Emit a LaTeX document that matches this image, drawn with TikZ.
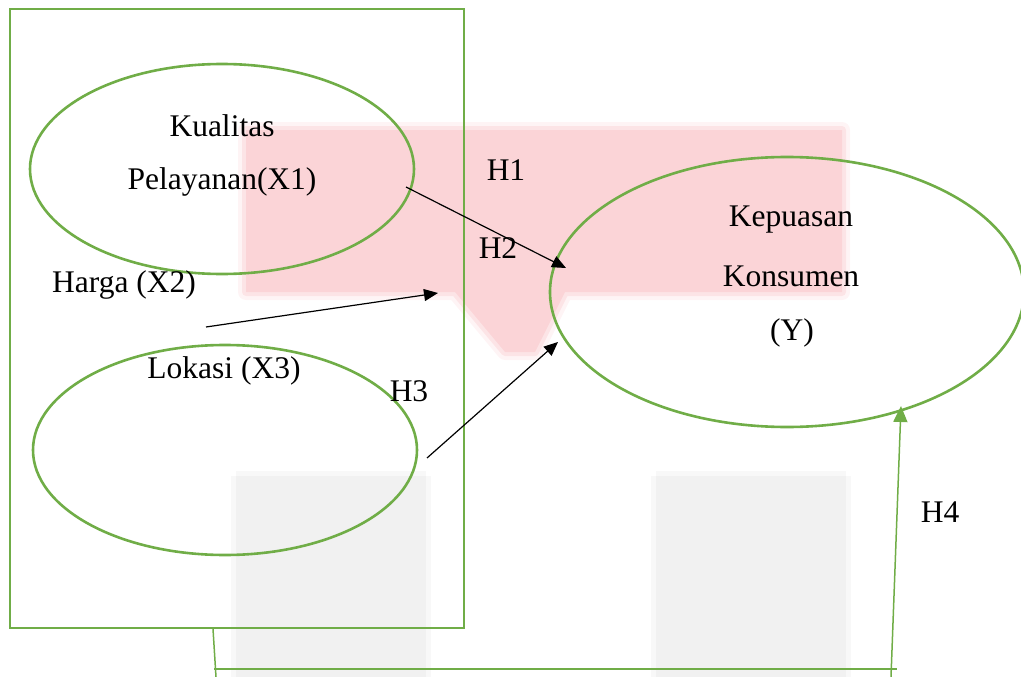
\documentclass[tikz,border=0pt]{standalone}
\usepackage{fontspec}
\setmainfont{Liberation Serif}
\usetikzlibrary{arrows.meta,shapes.geometric}
\definecolor{grn}{HTML}{70AD47}
\definecolor{wmpink}{HTML}{FBD4D7}
\definecolor{wmgrey}{HTML}{F1F1F1}
\begin{document}
\begin{tikzpicture}[x=1pt,y=-1pt,
  ell/.style={draw=grn, line width=2.6pt, ellipse, inner sep=0pt},
  boxst/.style={draw=grn, line width=2.6pt, rectangle, inner sep=0pt},
  lbl/.style={font=\fontsize{31.5}{37}\selectfont, inner sep=0pt, text=black},
  arr/.style={draw=black, line width=1.2pt, -{Triangle[length=14pt,width=12pt]}},
  gline/.style={draw=grn, line width=1.5pt},
  garr/.style={draw=grn, line width=1.5pt, -{Triangle[length=16pt,width=14pt]}}]
\useasboundingbox (0,0) rectangle (1021,677);
% faint watermark (soft edges)
\def\wmshape{(246,130) -- (842,130) -- (842,292) -- (565,292) -- (535,352) -- (505,352) -- (455,292) -- (246,292) -- cycle}
\draw[wmpink, line width=16pt, line join=round, opacity=0.25] \wmshape;
\draw[wmpink, line width=8pt, line join=round, opacity=0.5] \wmshape;
\fill[wmpink] \wmshape;
\draw[wmgrey, line width=10pt, opacity=0.5] (236,476) -- (236,677) (426,476) -- (426,677) (236,476) -- (426,476);
\fill[wmgrey] (236,476) rectangle (426,677);
\draw[wmgrey, line width=10pt, opacity=0.5] (656,476) -- (656,677) (846,476) -- (846,677) (656,476) -- (846,476);
\fill[wmgrey] (656,476) rectangle (846,677);
% shapes
\node[boxst, minimum width=454pt, minimum height=619pt] (box) at (237,318.5) {};
\node[ell, minimum width=384pt, minimum height=210pt] (e1) at (222,169) {};
\node[ell, minimum width=384pt, minimum height=210pt] (e2) at (225,450) {};
\node[ell, minimum width=474pt, minimum height=270pt] (e3) at (787,292) {};
% labels
\node[lbl] (t1) at (222,126) {Kualitas};
\node[lbl] (t2) at (222,182) {Pelayanan(X1)};
\node[lbl] (t3) at (124,285) {Harga (X2)};
\node[lbl] (t4) at (224,371) {Lokasi (X3)};
\node[lbl] (h1) at (506,170) {H1};
\node[lbl] (h2) at (498,248) {H2};
\node[lbl] (h3) at (409,391) {H3};
\node[lbl] (h4) at (940,512) {H4};
\node[lbl] (k1) at (791,220) {Kepuasan};
\node[lbl] (k2) at (791,276) {Konsumen};
\node[lbl] (k3) at (792,333) {(Y)};
% connectors
\coordinate (a1s) at (406,187);
\coordinate (a1e) at (566,268);
\coordinate (a2s) at (206,327);
\coordinate (a2e) at (438,293);
\coordinate (a3s) at (427,458);
\coordinate (a3e) at (558,342);
\draw[arr] (a1s) -- (a1e);
\draw[arr] (a2s) -- (a2e);
\draw[arr] (a3s) -- (a3e);
\coordinate (g1) at (213,629);
\coordinate (g2) at (216,677);
\coordinate (g3) at (214,669);
\coordinate (g4) at (897,669);
\coordinate (g5) at (891,677);
\coordinate (g6) at (901,406);
\draw[gline] (g1) -- (g2);
\draw[gline] (g3) -- (g4);
\draw[garr] (g5) -- (g6);
\end{tikzpicture}
\end{document}
